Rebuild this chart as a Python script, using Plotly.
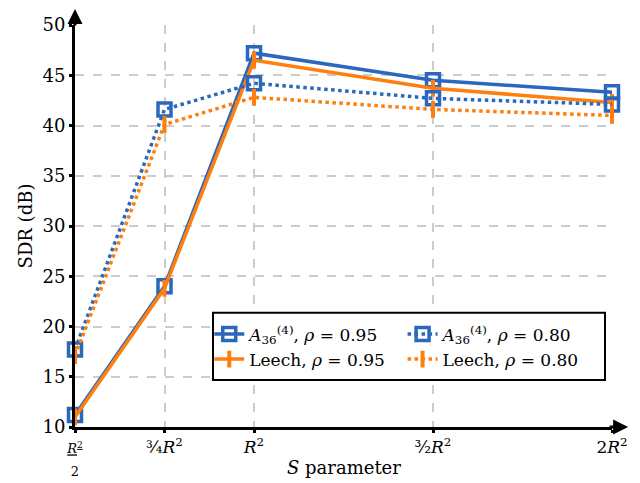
import plotly.graph_objects as go

s_values = [0.5, 0.75, 1.0, 1.5, 2.0]
tick_labels = ["<span style='font-size:13px'><u><i>R</i><sup>2</sup></u><br>2</span>",
               "¾<i>R</i><sup>2</sup>", "<i>R</i><sup>2</sup>",
               "³⁄₂<i>R</i><sup>2</sup>", "2<i>R</i><sup>2</sup>"]

a36_095 = [11.2, 24.0, 47.2, 44.5, 43.3]
leech_095 = [11.0, 23.8, 46.5, 43.7, 42.3]
a36_080 = [17.7, 41.6, 44.2, 42.7, 42.1]
leech_080 = [17.1, 40.1, 42.8, 41.6, 41.0]

BLUE = "#2a67bd"
ORANGE = "#ff7f0e"
FONT = "DejaVu Serif"

fig = go.Figure()

def sq(color):
    return dict(symbol="square-open", size=13, color=color, line=dict(width=3.5, color=color))

def bar(color):
    return dict(symbol="line-ns", size=12, color=color, line=dict(width=4, color=color))

fig.add_trace(go.Scatter(x=s_values, y=a36_095, mode="lines+markers", cliponaxis=False,
                         name="<i>A</i><sub>36</sub><sup>(4)</sup>, <i>ρ</i> = 0.95", legend="legend",
                         line=dict(color=BLUE, width=3.5), marker=sq(BLUE)))
fig.add_trace(go.Scatter(x=s_values, y=leech_095, mode="lines+markers", cliponaxis=False,
                         name="Leech, <i>ρ</i> = 0.95", legend="legend",
                         line=dict(color=ORANGE, width=3.5), marker=bar(ORANGE)))
fig.add_trace(go.Scatter(x=s_values, y=a36_080, mode="lines+markers", cliponaxis=False,
                         name="<i>A</i><sub>36</sub><sup>(4)</sup>, <i>ρ</i> = 0.80", legend="legend2",
                         line=dict(color=BLUE, width=3.5, dash="dot"), marker=sq(BLUE)))
fig.add_trace(go.Scatter(x=s_values, y=leech_080, mode="lines+markers", cliponaxis=False,
                         name="Leech, <i>ρ</i> = 0.80", legend="legend2",
                         line=dict(color=ORANGE, width=3.5, dash="dot"), marker=bar(ORANGE)))

fig.update_xaxes(range=[0.5, 2.0], tickvals=s_values, ticktext=tick_labels, automargin=False,
                 showline=True, linecolor="black", linewidth=3,
                 ticks="outside", ticklen=3, tickwidth=3, tickcolor="black",
                 showgrid=True, gridcolor="#cccccc", griddash="dash", gridwidth=1.5,
                 zeroline=False,
                 tickfont=dict(family=FONT, size=17, color="black"))
fig.update_yaxes(range=[10, 50], dtick=5, automargin=False,
                 showline=True, linecolor="black", linewidth=3,
                 ticks="outside", ticklen=3, tickwidth=3, tickcolor="black",
                 showgrid=True, gridcolor="#cccccc", griddash="dash", gridwidth=1.5,
                 zeroline=False,
                 title=dict(text="SDR (dB)", font=dict(family=FONT, size=18, color="black"), standoff=6),
                 tickfont=dict(family=FONT, size=18, color="black"))

# x-axis title
fig.add_annotation(xref="paper", yref="paper", x=0.5, y=-0.1, yanchor="middle",
                   text="<i>S</i> parameter", showarrow=False,
                   font=dict(family=FONT, size=18, color="black"))

# axis arrow extensions
fig.add_annotation(xref="paper", yref="paper", x=1.03, y=0, ax=-20, ay=0, text="",
                   showarrow=True, arrowhead=2, arrowsize=1, arrowwidth=3, arrowcolor="black")
fig.add_annotation(xref="paper", yref="paper", x=0, y=1.04, ax=0, ay=18, text="",
                   showarrow=True, arrowhead=2, arrowsize=1, arrowwidth=3, arrowcolor="black")

# legend frame
fig.add_shape(type="rect", xref="paper", yref="paper", x0=0.257, x1=0.987, y0=0.117, y1=0.284,
              line=dict(color="black", width=2), fillcolor="white", layer="above")

legend_common = dict(orientation="v", yanchor="top", xanchor="left", bgcolor="rgba(0,0,0,0)",
                     borderwidth=0, font=dict(family=FONT, size=17, color="black"),
                     tracegroupgap=0, itemwidth=30)

fig.update_layout(
    width=632, height=475,
    margin=dict(l=67, r=28, t=17, b=56),
    plot_bgcolor="white", paper_bgcolor="white",
    font=dict(family=FONT, size=18, color="black"),
    legend=dict(x=0.25, y=0.275, **legend_common),
    legend2=dict(x=0.61, y=0.275, **legend_common),
)

fig.write_html("out.html")
